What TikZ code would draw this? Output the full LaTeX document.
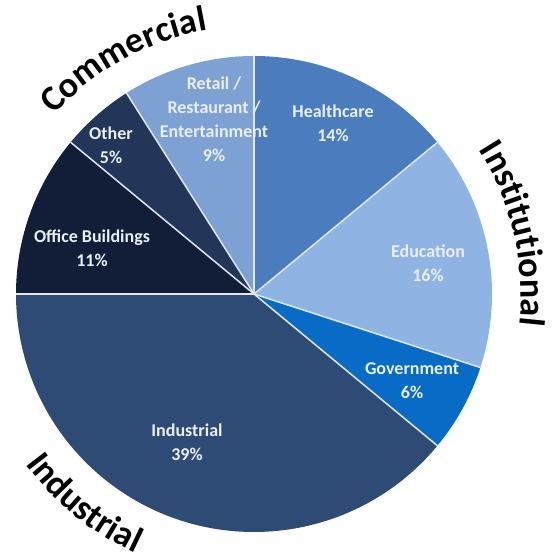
\documentclass[tikz,border=0pt]{standalone}
\usepackage{fontspec}
\setmainfont{Carlito}
\usetikzlibrary{decorations.text}
\definecolor{cRetail}{RGB}{126,161,211}
\definecolor{cHealth}{RGB}{74,124,190}
\definecolor{cEdu}{RGB}{143,180,227}
\definecolor{cGov}{RGB}{8,108,198}
\definecolor{cInd}{RGB}{46,75,117}
\definecolor{cOffice}{RGB}{18,30,56}
\definecolor{cOther}{RGB}{34,54,90}
\definecolor{cSep}{RGB}{222,231,243}
\definecolor{cLbl}{RGB}{234,239,246}
\newcommand\myoutfont{\fontsize{36}{40}\selectfont\bfseries}
\tikzset{
  sep/.style={draw=cSep, line width=1.5pt},
  lbl/.style={font=\fontsize{18}{24}\selectfont\bfseries, text=cLbl, inner sep=0pt, anchor=base},
  outer/.style={decorate, decoration={text along path, text align=center, text={|\myoutfont|#1}}}
}
\begin{document}
\begin{tikzpicture}[x=1pt,y=1pt]
\useasboundingbox (0,0) rectangle (560,560);
\fill[white] (0,0) rectangle (560,560);
\coordinate (c) at (254,266);
% slices
\begin{scope}[shift={(c)}]
\fill[cHealth] (0,0) -- (90:238pt) arc[start angle=90, end angle=39.6, radius=238pt] -- cycle;
\fill[cEdu] (0,0) -- (39.6:238pt) arc[start angle=39.6, end angle=-18, radius=238pt] -- cycle;
\fill[cGov] (0,0) -- (-18:238pt) arc[start angle=-18, end angle=-39.6, radius=238pt] -- cycle;
\fill[cInd] (0,0) -- (-39.6:238pt) arc[start angle=-39.6, end angle=-180, radius=238pt] -- cycle;
\fill[cOffice] (0,0) -- (180:238pt) arc[start angle=180, end angle=140.4, radius=238pt] -- cycle;
\fill[cOther] (0,0) -- (140.4:238pt) arc[start angle=140.4, end angle=122.4, radius=238pt] -- cycle;
\fill[cRetail] (0,0) -- (122.4:238pt) arc[start angle=122.4, end angle=90, radius=238pt] -- cycle;
\foreach \a in {90,39.6,-18,-39.6,180,140.4,122.4}
  \draw[sep] (0,0) -- (\a:238pt);
% outer labels
\path[outer=Commercial] (149:268pt) arc[start angle=149, end angle=89, radius=268pt];
\path[outer=Institutional] (43:267pt) arc[start angle=43, end angle=-17, radius=267pt];
\path[outer=Industrial] (201:285pt) arc[start angle=201, end angle=261, radius=285pt];
\end{scope}
% slice labels
\node[lbl] (lretail) at (214,470) {\begin{tabular}[t]{@{}c@{}}Retail /\\Restaurant /\\Entertainment\\9\%\end{tabular}};
\node[lbl] (lother) at (111,420) {\begin{tabular}[t]{@{}c@{}}Other\\5\%\end{tabular}};
\node[lbl] (loffice) at (92,317) {\begin{tabular}[t]{@{}c@{}}Office Buildings\\11\%\end{tabular}};
\node[lbl] (lhealth) at (333,442) {\begin{tabular}[t]{@{}c@{}}Healthcare\\14\%\end{tabular}};
\node[lbl] (ledu) at (428,302) {\begin{tabular}[t]{@{}c@{}}Education\\16\%\end{tabular}};
\node[lbl] (lgov) at (412,185) {\begin{tabular}[t]{@{}c@{}}Government\\6\%\end{tabular}};
\node[lbl] (lind) at (187,123) {\begin{tabular}[t]{@{}c@{}}Industrial\\39\%\end{tabular}};
\end{tikzpicture}
\end{document}
